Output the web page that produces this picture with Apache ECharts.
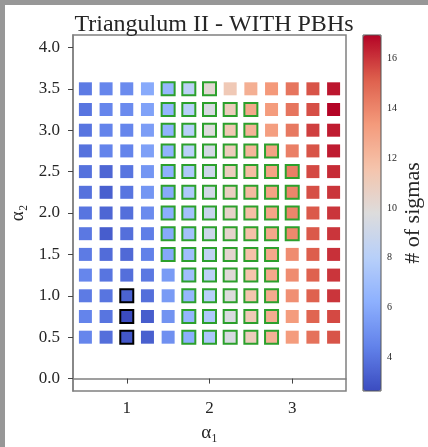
<!DOCTYPE html>
<html><head><meta charset="utf-8">
<script src="https://cdn.jsdelivr.net/npm/echarts@6/dist/echarts.min.js"></script>
<style>
html,body{margin:0;padding:0;background:#979797;width:428px;height:447px;overflow:hidden;}
#chart{position:absolute;left:5px;top:5px;width:423px;height:442px;background:#fff;}
</style></head><body><div id="chart"></div>
<script>
// alpha_1 values (columns) and alpha_2 values (rows, top to bottom)
const alpha1 = [0.5, 0.75, 1.0, 1.25, 1.5, 1.75, 2.0, 2.25, 2.5, 2.75, 3.0, 3.25, 3.5];
const alpha2 = [3.5, 3.25, 3.0, 2.75, 2.5, 2.25, 2.0, 1.75, 1.5, 1.25, 1.0, 0.75, 0.5];
// number of sigmas, one row per alpha_2 value
const sigmas = [
  [4.2, 4.6, 4.8, 6.0, 6.6, 8.2, 10.2, 11.2, 12.5, 13.4, 14.5, 15.4, 16.6],
  [4.0, 4.6, 4.8, 5.7, 6.5, 8.0, 9.5, 11.0, 12.8, 13.3, 14.5, 15.5, 16.95],
  [4.0, 4.5, 4.6, 5.5, 6.4, 8.0, 9.8, 11.3, 12.3, 13.2, 14.4, 15.8, 16.5],
  [3.9, 4.5, 4.5, 5.6, 6.4, 8.1, 9.3, 11.0, 12.2, 13.0, 14.2, 15.4, 16.5],
  [3.9, 3.5, 4.0, 5.2, 6.3, 7.6, 9.0, 10.9, 11.9, 13.0, 14.2, 15.6, 16.2],
  [3.9, 3.3, 4.0, 5.2, 6.0, 7.6, 9.2, 10.8, 12.0, 13.0, 14.0, 15.5, 16.0],
  [4.0, 3.5, 3.8, 4.8, 6.2, 7.2, 8.8, 10.5, 11.8, 12.9, 14.0, 15.3, 16.0],
  [4.1, 3.2, 3.8, 4.3, 6.0, 7.2, 9.0, 10.4, 11.7, 12.8, 13.9, 15.3, 16.0],
  [4.2, 3.7, 3.6, 4.4, 5.9, 7.0, 8.4, 10.3, 11.7, 12.8, 13.8, 15.2, 16.1],
  [4.6, 4.0, 3.8, 4.1, 5.4, 7.0, 8.2, 10.0, 11.6, 12.8, 13.8, 15.1, 16.0],
  [4.2, 4.0, 3.4, 3.8, 5.4, 6.6, 8.0, 9.8, 11.5, 12.7, 13.7, 15.1, 16.0],
  [4.5, 4.0, 2.65, 3.2, 5.1, 6.5, 7.6, 9.6, 11.2, 12.6, 13.3, 15.0, 15.6],
  [4.6, 3.8, 3.0, 3.3, 5.0, 6.2, 7.5, 9.5, 11.0, 12.4, 13.3, 14.6, 15.4]
];
// green-outlined cells: first and last alpha_1 index per row
const greenFrom = [4, 4, 4, 4, 4, 4, 4, 4, 4, 5, 5, 5, 5];
const greenTo   = [6, 8, 8, 9, 10, 10, 10, 10, 9, 9, 9, 9, 9];
// black-outlined cells [alpha_1, alpha_2]
const blackCells = [[1.0, 1.0], [1.0, 0.75], [1.0, 0.5]];
const xTicks = [1, 2, 3];
const yTicks = [0.0, 0.5, 1.0, 1.5, 2.0, 2.5, 3.0, 3.5, 4.0];
const cbTicks = [4, 6, 8, 10, 12, 14, 16];
const sigMin = 2.65, sigMax = 16.95;

const coolwarm = ['#3b4cc0','#6282ea','#8db0fe','#b8d0f9','#dddcdc','#f5c4ac','#f49a7b','#de604d','#b40426'];

const plain = [], green = [], black = [];
alpha2.forEach((y, r) => {
  alpha1.forEach((x, c) => {
    const v = sigmas[r][c];
    const isBlack = blackCells.some(b => b[0] === x && b[1] === y);
    if (isBlack) black.push([x, y, v]);
    else if (c >= greenFrom[r] && c <= greenTo[r]) green.push([x, y, v]);
    else plain.push([x, y, v]);
  });
});

const FONT = 'Liberation Serif';
const gray = '#808080';
const txt = '#262626';
const chart = echarts.init(document.getElementById('chart'), null, {renderer: 'canvas'});
chart.setOption({
  animation: false,
  title: {
    text: 'Triangulum II - WITH PBHs', left: 204, top: 3, textAlign: 'center',
    textStyle: {fontFamily: FONT, fontSize: 24, fontWeight: 'normal', color: txt}
  },
  grid: [
    {left: 68, top: 30, width: 273, height: 356, show: true, borderColor: gray, borderWidth: 1.5, backgroundColor: '#fff', outerBoundsMode: 'none', containLabel: false},
    {left: 358, top: 30, width: 18, height: 356, show: true, borderColor: '#555', borderWidth: 1, backgroundColor: 'transparent', z: 10, outerBoundsMode: 'none', containLabel: false}
  ],
  xAxis: [
    {type: 'value', gridIndex: 0, min: 0.35, max: 3.65,
     name: 'α₁', nameLocation: 'middle', nameGap: 33,
     nameTextStyle: {fontFamily: FONT, fontSize: 19, color: txt},
     axisLine: {show: true, lineStyle: {color: gray, width: 1.5}},
     axisTick: {show: true, length: 5, customValues: xTicks, lineStyle: {color: '#444'}},
     axisLabel: {customValues: xTicks, fontFamily: FONT, fontSize: 17, color: txt, margin: 9},
     splitLine: {show: false}},
    {type: 'value', gridIndex: 1, min: 0, max: 1, show: false}
  ],
  yAxis: [
    {type: 'value', gridIndex: 0, min: -0.15, max: 4.15,
     name: 'α₂', nameLocation: 'middle', nameGap: 45, nameRotate: 90,
     nameTextStyle: {fontFamily: FONT, fontSize: 19, color: txt},
     axisLine: {show: true, lineStyle: {color: gray, width: 1.5}},
     axisTick: {show: true, length: 5, customValues: yTicks, lineStyle: {color: '#444'}},
     axisLabel: {customValues: yTicks, formatter: v => v.toFixed(1), fontFamily: FONT, fontSize: 17, color: txt, margin: 13},
     splitLine: {show: false}},
    {type: 'value', gridIndex: 1, min: sigMin, max: sigMax, position: 'right',
     name: '# of sigmas', nameLocation: 'middle', nameGap: 21, nameRotate: 90,
     nameTextStyle: {fontFamily: FONT, fontSize: 22, color: txt, verticalAlign: 'top'},
     axisLine: {show: false},
     axisTick: {show: true, length: 3, customValues: cbTicks, lineStyle: {color: '#444'}},
     axisLabel: {customValues: cbTicks, fontFamily: FONT, fontSize: 10, color: txt, margin: 6},
     splitLine: {show: false}}
  ],
  visualMap: {
    type: 'continuous', min: sigMin, max: sigMax, dimension: 2, seriesIndex: [0, 1, 2],
    inRange: {color: coolwarm}, calculable: false, text: null, showLabel: false,
    left: 358, top: 30, itemWidth: 18, itemHeight: 356, padding: 0, orient: 'vertical'
  },
  series: [
    {type: 'scatter', xAxisIndex: 0, yAxisIndex: 0, symbol: 'rect', symbolSize: 13, data: plain,
     itemStyle: {opacity: 1}},
    {type: 'scatter', xAxisIndex: 0, yAxisIndex: 0, symbol: 'rect', symbolSize: 13, data: green,
     itemStyle: {opacity: 1, borderColor: '#2ca02c', borderWidth: 2}},
    {type: 'scatter', xAxisIndex: 0, yAxisIndex: 0, symbol: 'rect', symbolSize: 13, data: black,
     itemStyle: {opacity: 1, borderColor: '#000', borderWidth: 2}}
  ]
});
</script></body></html>
